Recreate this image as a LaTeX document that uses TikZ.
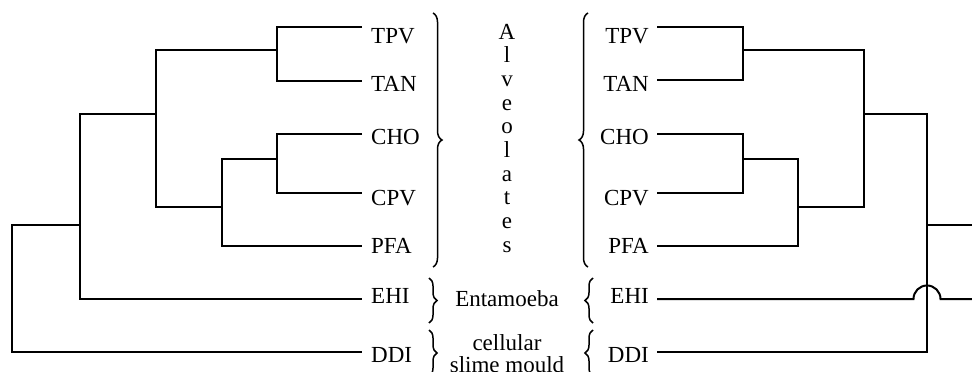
\documentclass[tikz,border=0pt]{standalone}
\usepackage{fontspec}
\setmainfont{Liberation Serif}
\usetikzlibrary{decorations.pathreplacing}
\begin{document}
\begin{tikzpicture}[x=1pt,y=1pt,
  tree/.style={line width=2pt, line join=miter},
  lab/.style={inner sep=0pt, font=\fontsize{23}{23.7}\selectfont},
  llab/.style={lab, anchor=base west},
  rlab/.style={lab, anchor=base east},
  brc/.style={decorate, line width=1.5pt, decoration={brace, amplitude=#1}},
]
\useasboundingbox (0,0) rectangle (972,-372);
\clip (0,0) rectangle (972,-372);

% ---------- left tree ----------
\coordinate (lTPVe) at (362,-27);
\coordinate (lTANe) at (362,-81);
\coordinate (lCHOe) at (362,-134);
\coordinate (lCPVe) at (362,-193);
\coordinate (lPFAe) at (362,-246);
\coordinate (lEHIe) at (362,-299);
\coordinate (lDDIe) at (362,-352);
\coordinate (la) at (277,-50);
\coordinate (lb) at (277,-159);
\coordinate (lc) at (222,-207);
\coordinate (ld) at (156,-114);
\coordinate (le) at (80,-225);
\coordinate (lf) at (12,-290);

\draw[tree] (lTPVe) -| (la) |- (lTANe);
\draw[tree] (lCHOe) -| (lb) |- (lCPVe);
\draw[tree] (lb) -| (lc) |- (lPFAe);
\draw[tree] (la) -| (ld) |- (lc);
\draw[tree] (ld) -| (le) |- (lEHIe);
\draw[tree] (le) -| (lf) |- (lDDIe);

\node[llab] (lTPV) at (371,-43) {TPV};
\node[llab] (lTAN) at (371,-91) {TAN};
\node[llab] (lCHO) at (371,-144) {CHO};
\node[llab] (lCPV) at (371,-205) {CPV};
\node[llab] (lPFA) at (371,-253) {PFA};
\node[llab] (lEHI) at (371,-303) {EHI};
\node[llab] (lDDI) at (371,-362) {DDI};

% ---------- right tree ----------
\coordinate (rTPVe) at (657,-27);
\coordinate (rTANe) at (657,-80);
\coordinate (rCHOe) at (657,-134);
\coordinate (rCPVe) at (657,-193);
\coordinate (rPFAe) at (657,-246);
\coordinate (rEHIe) at (657,-299);
\coordinate (rDDIe) at (657,-352);
\coordinate (ra) at (743,-50);
\coordinate (rb) at (743,-159);
\coordinate (rc) at (798,-207);
\coordinate (rd) at (864,-114);
\coordinate (re) at (927,-225);
\coordinate (rroot) at (972,-225);
\coordinate (rhop) at (913.5,-299);
\coordinate (rEHIo) at (972,-299);

\draw[tree] (rTPVe) -| (ra) |- (rTANe);
\draw[tree] (rCHOe) -| (rb) |- (rCPVe);
\draw[tree] (rb) -| (rc) |- (rPFAe);
\draw[tree] (ra) -| (rd) |- (rc);
\draw[tree] (rd) -| (re) |- (rDDIe);
\draw[tree] (re) -- (rroot);
\draw[tree] (rEHIe) -- (rhop) arc[start angle=180, end angle=0, radius=13.5] -- (rEHIo);

\node[rlab] (rTPV) at (649,-43) {TPV};
\node[rlab] (rTAN) at (649,-91) {TAN};
\node[rlab] (rCHO) at (649,-144) {CHO};
\node[rlab] (rCPV) at (649,-205) {CPV};
\node[rlab] (rPFA) at (649,-253) {PFA};
\node[rlab] (rEHI) at (649,-303) {EHI};
\node[rlab] (rDDI) at (649,-362) {DDI};

% ---------- braces ----------
\draw[brc=9pt] (433,-13) -- (433,-267);
\draw[brc=9pt] (588,-267) -- (588,-13);
\draw[brc=8pt] (429,-278) -- (429,-323);
\draw[brc=8pt] (593,-323) -- (593,-278);
\draw[brc=8pt] (429,-330) -- (429,-376);
\draw[brc=8pt] (593,-376) -- (593,-330);

% ---------- group labels ----------
\foreach \c [count=\i from 0] in {A,l,v,e,o,l,a,t,e,s}
  \node[lab, anchor=base] (alv\i) at (507,{-39-23.7*\i}) {\c};
\node[lab, anchor=base] (ent) at (507,-306) {Entamoeba};
\node[lab, anchor=base] (cell) at (507,-350) {cellular};
\node[lab, anchor=base] (slime) at (507,-372) {slime mould};
\end{tikzpicture}
\end{document}
